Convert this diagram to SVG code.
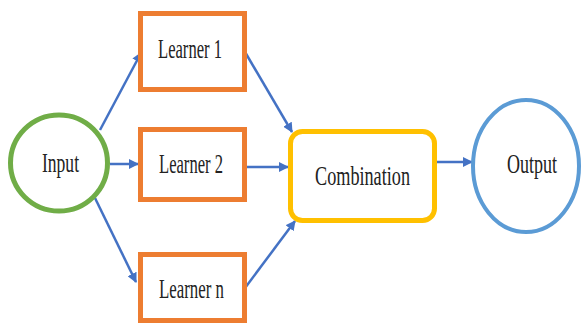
<svg xmlns="http://www.w3.org/2000/svg" width="585" height="324" viewBox="0 0 585 324">
<style>
.lbl{font-family:"Liberation Serif","Times New Roman",serif;font-size:27px;fill:#222;}
.learner{fill:#fff;stroke:#ED7D31;stroke-width:5;}
.conn{stroke:#4472C4;stroke-width:2.5;fill:none;marker-end:url(#ah);}
</style>
<defs>
<marker id="ah" viewBox="0 0 10 10" refX="9" refY="5" markerWidth="10" markerHeight="10" markerUnits="userSpaceOnUse" orient="auto">
<path d="M0,0 L10,5 L0,10 z" fill="#4472C4"/>
</marker>
</defs>
<rect width="585" height="324" fill="#fff"/>
<g id="connectors">
<line class="conn" x1="100" y1="130" x2="141" y2="53"/>
<line class="conn" x1="110" y1="164" x2="138" y2="164"/>
<line class="conn" x1="95" y1="198" x2="136" y2="282"/>
<line class="conn" x1="245" y1="52" x2="292" y2="132"/>
<line class="conn" x1="247" y1="167" x2="288" y2="167"/>
<line class="conn" x1="245" y1="288" x2="295" y2="221"/>
<line class="conn" x1="437" y1="162" x2="472" y2="162"/>
</g>
<g id="input">
<ellipse cx="59" cy="163" rx="48.5" ry="48" fill="#fff" stroke="#70AD47" stroke-width="5"/>
<text class="lbl" x="42" y="172" textLength="37" lengthAdjust="spacingAndGlyphs">Input</text>
</g>
<g id="learner1">
<rect class="learner" x="140.5" y="13.5" width="104" height="76"/>
<text class="lbl" x="158" y="58" textLength="64" lengthAdjust="spacingAndGlyphs">Learner 1</text>
</g>
<g id="learner2">
<rect class="learner" x="140.5" y="129.5" width="104" height="70"/>
<text class="lbl" x="159" y="173" textLength="64" lengthAdjust="spacingAndGlyphs">Learner 2</text>
</g>
<g id="learnern">
<rect class="learner" x="140.5" y="254.5" width="104" height="66"/>
<text class="lbl" x="159" y="298" textLength="65" lengthAdjust="spacingAndGlyphs">Learner n</text>
</g>
<g id="combination">
<rect x="290.5" y="131.5" width="144" height="89" rx="12" fill="#fff" stroke="#FFC000" stroke-width="5"/>
<text class="lbl" x="315" y="185" textLength="95" lengthAdjust="spacingAndGlyphs">Combination</text>
</g>
<g id="output">
<ellipse cx="526" cy="166" rx="53" ry="66" fill="#fff" stroke="#5B9BD5" stroke-width="4"/>
<text class="lbl" x="507" y="173" textLength="50" lengthAdjust="spacingAndGlyphs">Output</text>
</g>
</svg>
